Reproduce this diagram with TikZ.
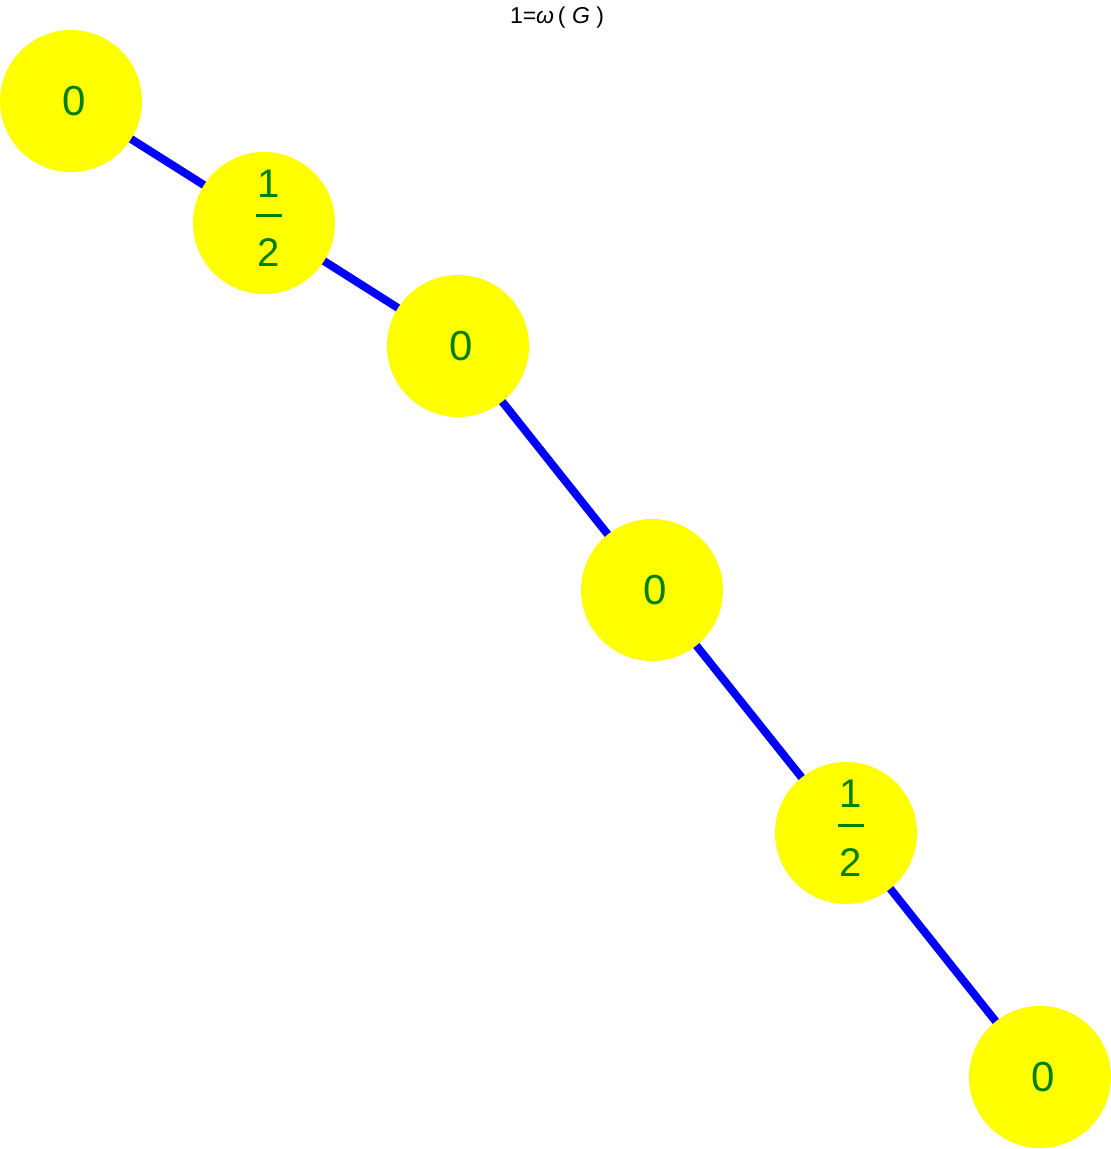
\documentclass[tikz,border=0pt]{standalone}
\usepackage{fontspec}
\setmainfont{Liberation Sans}
\usetikzlibrary{backgrounds}
\definecolor{vfill}{rgb}{1,1,0}
\definecolor{vtext}{rgb}{0,0.5,0}
\definecolor{vedge}{rgb}{0,0,1}
\newcommand\halffrac{\hspace*{9pt}{\fontsize{40}{32}\selectfont\begin{tabular}{@{}c@{}}1\\\rule[12.5pt]{26pt}{3pt}\\2\end{tabular}}}
\newcommand\zerolab{\hspace*{6pt}0}
\tikzset{
  vtx/.style={circle, fill=vfill, minimum size=142pt, inner sep=0pt, text=vtext, font=\fontsize{42}{48}\selectfont},
  edg/.style={draw=vedge, line width=8pt},
  ttl/.style={font=\fontsize{23}{26}\selectfont, text=black, inner sep=0pt}
}
\begin{document}
\begin{tikzpicture}[x=1pt,y=1pt]
\useasboundingbox (0,0) rectangle (1111,-1149);
\node[ttl] (title) at (557,-18) {1=\textit{ω}\,( \textit{G} )};
\node[vtx] (v1) at (71,-101) {\zerolab};
\node[vtx] (v2) at (264,-223) {\halffrac};
\node[vtx] (v3) at (458,-346) {\zerolab};
\node[vtx] (v4) at (652,-590) {\zerolab};
\node[vtx] (v5) at (846,-833) {\halffrac};
\node[vtx] (v6) at (1040,-1077) {\zerolab};
\begin{scope}[on background layer]
\draw[edg] (v1.center) -- (v2.center);
\draw[edg] (v2.center) -- (v3.center);
\draw[edg] (v3.center) -- (v4.center);
\draw[edg] (v4.center) -- (v5.center);
\draw[edg] (v5.center) -- (v6.center);
\end{scope}
\end{tikzpicture}
\end{document}
